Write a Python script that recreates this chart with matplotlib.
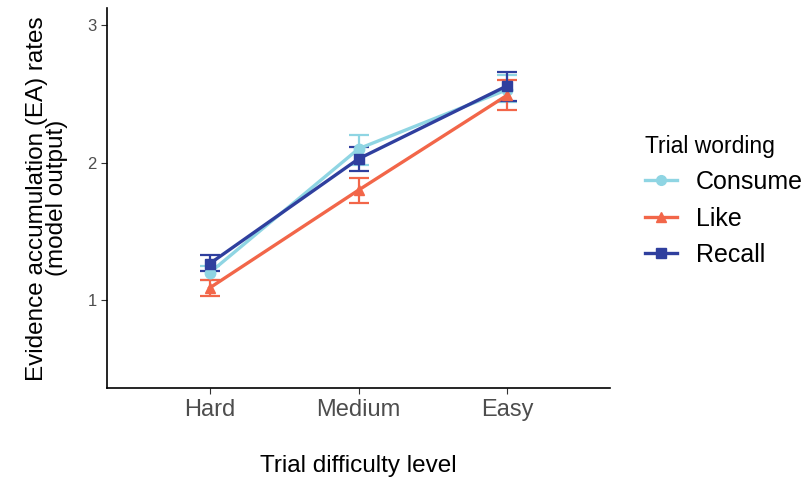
import matplotlib
matplotlib.use("Agg")
import matplotlib.pyplot as plt
from matplotlib.lines import Line2D

plt.rcParams['font.family'] = ['Liberation Sans', 'DejaVu Sans']

levels = ["Hard", "Medium", "Easy"]
series = ["Consume", "Like", "Recall"]
consume = [1.20, 2.10, 2.53]
consume_lo = [1.15, 1.98, 2.44]
consume_hi = [1.25, 2.20, 2.635]
like = [1.09, 1.80, 2.49]
like_lo = [1.03, 1.705, 2.38]
like_hi = [1.145, 1.886, 2.60]
recall = [1.266, 2.027, 2.558]
recall_lo = [1.21, 1.94, 2.45]
recall_hi = [1.326, 2.11, 2.66]

colors = {"Consume": "#8FD5E3", "Like": "#F26649", "Recall": "#2F3F9E"}
markers = {"Consume": "o", "Like": "^", "Recall": "s"}
data = {"Consume": (consume, consume_lo, consume_hi),
        "Like": (like, like_lo, like_hi),
        "Recall": (recall, recall_lo, recall_hi)}

fig = plt.figure(figsize=(8.06, 4.84), dpi=100)
ax = fig.add_axes([0.1328, 0.198, 0.6242, 0.785])
x = list(range(1, len(levels) + 1))
for s in series:
    v, lo, hi = data[s]
    err = [[a - b for a, b in zip(v, lo)], [b - a for a, b in zip(v, hi)]]
    ax.errorbar(x, v, yerr=err, color=colors[s], lw=2.4, marker=markers[s],
                markersize=7.5, capsize=7, capthick=1.6, elinewidth=1.6)

ax.set_xlim(0.31, 3.69)
ax.set_ylim(0.362, 3.12)
ax.set_xticks(x)
ax.set_xticklabels(levels, fontsize=17, color="#4D4D4D")
ax.set_yticks([1, 2, 3])
ax.set_yticklabels(["1", "2", "3"], fontsize=12, color="#4D4D4D")
ax.tick_params(axis="both", length=4, width=0.8, color="#333333")
for sp in ["top", "right"]:
    ax.spines[sp].set_visible(False)
for sp in ["left", "bottom"]:
    ax.spines[sp].set_linewidth(1.2)
ax.set_xlabel("Trial difficulty level", fontsize=17.5, labelpad=25)
ax.set_ylabel("Evidence accumulation (EA) rates\n(model output)", fontsize=17.5,
              labelpad=14, linespacing=0.85)

handles = [Line2D([0], [0], color=colors[s], lw=2.4, marker=markers[s], markersize=7) for s in series]
leg = fig.legend(handles, series, title="Trial wording", loc="upper left",
                 bbox_to_anchor=(0.800, 0.722), frameon=False, fontsize=18,
                 title_fontsize=16.5, handlelength=1.3, labelspacing=0.5,
                 handletextpad=0.75, borderpad=0, borderaxespad=0)
leg._legend_box.align = "left"

fig.savefig("out.png", dpi=100)
